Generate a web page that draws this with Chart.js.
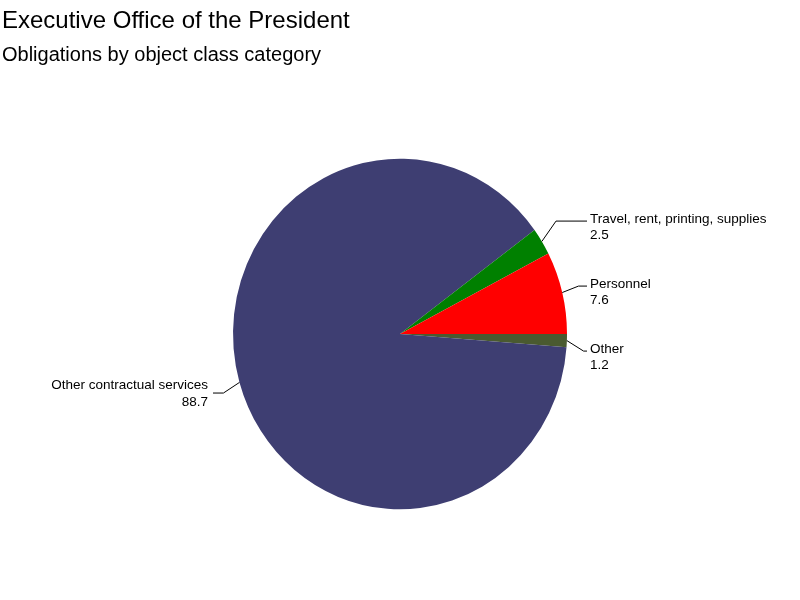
<!DOCTYPE html>
<html>
<head>
<meta charset="utf-8">
<title>Executive Office of the President</title>
<script src="https://cdn.jsdelivr.net/npm/chart.js@4/dist/chart.umd.min.js"></script>
<style>
  body { margin: 0; background: #fff; }
  canvas { display: block; }
</style>
</head>
<body>
<canvas id="myChart" width="800" height="600"></canvas>
<script>
// data, in drawing order (clockwise from 3 o'clock)
const categories = ['Other', 'Other contractual services', 'Travel, rent, printing, supplies', 'Personnel'];
const shares = [1.2, 88.7, 2.5, 7.6];
const sliceColors = ['#4a5a30', '#3e3e72', '#008000', '#ff0000'];

const titleText = 'Executive Office of the President';
const subtitleText = 'Obligations by object class category';

const FONT = '"Liberation Sans", Arial, sans-serif';
const Y_SCALE = 1.05; // pie is a little taller than wide
const MIN_GAP = 65;   // min vertical gap between labels on one side

// stretch the pie slightly in y around its centre
const ellipsePlugin = {
  id: 'ellipse',
  beforeDatasetsDraw(chart) {
    const arc = chart.getDatasetMeta(0).data[0];
    const {x, y} = arc.getProps(['x', 'y'], true);
    const ctx = chart.ctx;
    ctx.save();
    ctx.translate(x, y);
    ctx.scale(1, Y_SCALE);
    ctx.translate(-x, -y);
  },
  afterDatasetsDraw(chart) {
    chart.ctx.restore();
  }
};

// titles top-left
const titlesPlugin = {
  id: 'titles',
  afterDraw(chart) {
    const ctx = chart.ctx;
    ctx.save();
    ctx.fillStyle = '#000';
    ctx.textAlign = 'left';
    ctx.textBaseline = 'alphabetic';
    ctx.font = '24px ' + FONT;
    ctx.fillText(titleText, 2, 28);
    ctx.font = '20px ' + FONT;
    ctx.fillText(subtitleText, 2, 61);
    ctx.restore();
  }
};

// outside labels with leader lines
const leaderPlugin = {
  id: 'leaders',
  afterDraw(chart) {
    const ctx = chart.ctx;
    const meta = chart.getDatasetMeta(0);
    const items = meta.data.map((arc, i) => {
      const p = arc.getProps(['x', 'y', 'startAngle', 'endAngle', 'outerRadius'], true);
      const mid = (p.startAngle + p.endAngle) / 2;
      const c = Math.cos(mid), s = Math.sin(mid);
      const rx = p.outerRadius, ry = p.outerRadius * Y_SCALE;
      return {
        i, p, c, right: c >= 0,
        ex: p.x + rx * c, ey: p.y + ry * s,
        kx: p.x + rx * 1.1 * c, ky: p.y + ry * 1.22 * s,
        lx: c >= 0 ? p.x + rx + 20 : p.x - rx - 20
      };
    });
    // push overlapping labels apart, top to bottom per side
    [true, false].forEach(side => {
      const list = items.filter(d => d.right === side).sort((a, b) => a.ky - b.ky);
      for (let k = 1; k < list.length; k++) {
        if (list[k].ky - list[k - 1].ky < MIN_GAP) list[k].ky = list[k - 1].ky + MIN_GAP;
      }
    });
    ctx.save();
    ctx.strokeStyle = '#000';
    ctx.lineWidth = 1;
    ctx.fillStyle = '#000';
    ctx.font = '13.5px ' + FONT;
    items.forEach(d => {
      ctx.beginPath();
      ctx.moveTo(d.ex, d.ey);
      ctx.lineTo(d.kx, d.ky);
      ctx.lineTo(d.lx, d.ky);
      ctx.stroke();
      ctx.textAlign = d.right ? 'left' : 'right';
      const tx = d.right ? d.lx + 3 : d.lx - 5;
      const by = d.right ? d.ky + 1.5 : d.ky - 4;
      ctx.fillText(categories[d.i], tx, by);
      ctx.fillText(shares[d.i].toFixed(1), tx, by + 16.5);
    });
    ctx.restore();
  }
};

const ctx = document.getElementById('myChart').getContext('2d');
const myChart = new Chart(ctx, {
  type: 'pie',
  data: {
    labels: categories,
    datasets: [{
      data: shares,
      backgroundColor: sliceColors,
      borderWidth: 0,
      hoverOffset: 0
    }]
  },
  options: {
    responsive: false,
    animation: false,
    devicePixelRatio: 1,
    rotation: 90,
    layout: { padding: { top: 167, bottom: 99, left: 200, right: 200 } },
    plugins: {
      legend: { display: false },
      tooltip: { enabled: false }
    }
  },
  plugins: [ellipsePlugin, titlesPlugin, leaderPlugin]
});
</script>
</body>
</html>
